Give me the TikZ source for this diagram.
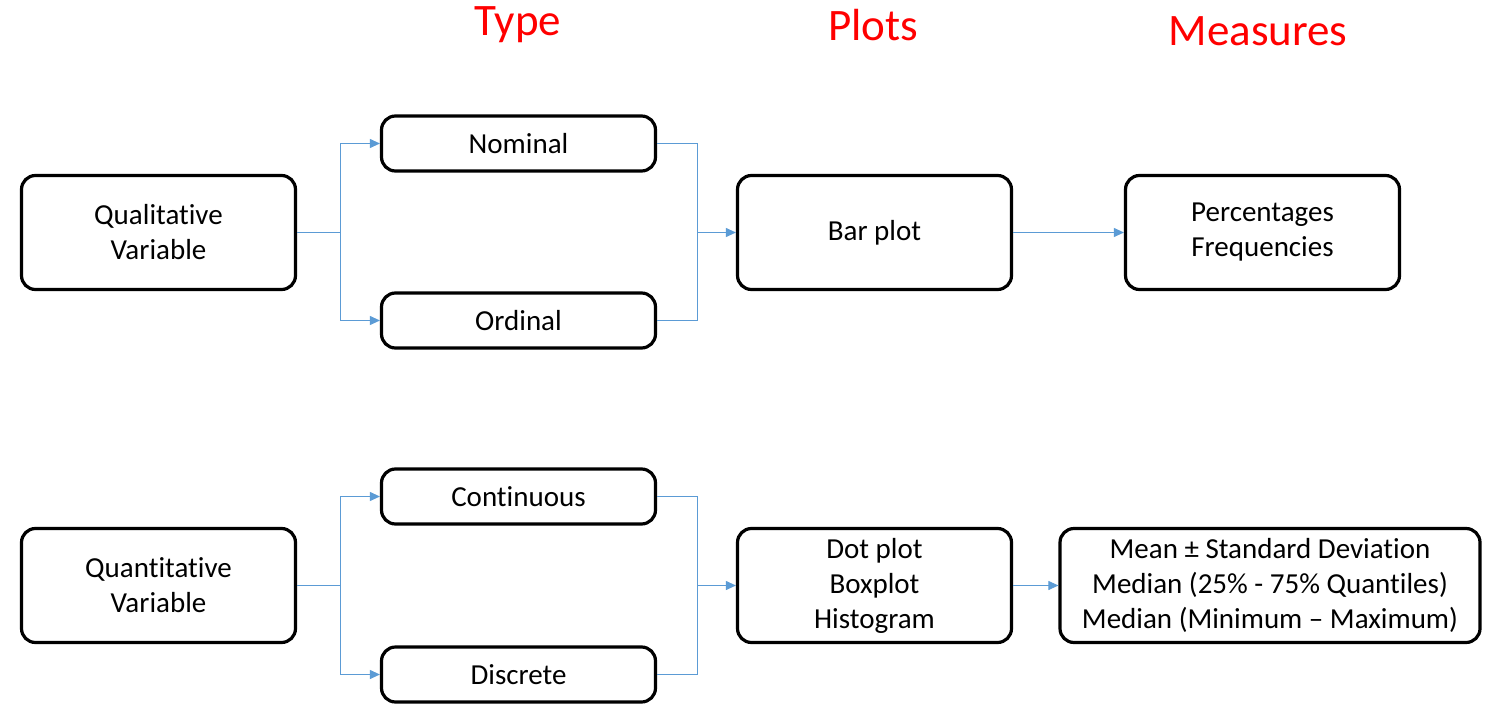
\documentclass[tikz,border=0pt]{standalone}
\usepackage{fontspec}
\setmainfont[Ligatures={NoCommon,NoContextual},RawFeature={-liga;-clig;-calt;-dlig}]{Carlito}
\usetikzlibrary{arrows.meta}
\definecolor{conncol}{RGB}{91,155,213}
\definecolor{titlered}{RGB}{255,0,0}
\begin{document}
\begin{tikzpicture}[x=0.5pt,y=-0.5pt,
  box/.style={draw=black,line width=1.6pt,rounded corners=7pt,inner sep=0pt,align=center,
    font=\fontsize{14.5}{17.5}\selectfont},
  bigbox/.style={box,minimum width=137pt,minimum height=57pt},
  smallbox/.style={box,minimum width=137pt,minimum height=27.5pt},
  widebox/.style={box,minimum width=210pt,minimum height=57pt},
  conn/.style={draw=conncol,line width=0.5pt},
  arr/.style={conn,-{Triangle[length=5pt,width=4.5pt]}},
  title/.style={text=titlered,font=\fontsize{22.5}{27}\selectfont}]
\useasboundingbox (0,0) rectangle (1498,722);
% titles
\node[title] (tType) at (518,25) {Type};
\node[title] (tPlots) at (873,25) {Plots};
\node[title] (tMeas) at (1258,31) {Measures};
% top row
\node[bigbox] (qual) at (158.5,232.5) {Qualitative\\Variable};
\node[smallbox] (nom) at (518.5,143.5) {Nominal};
\node[smallbox] (ord) at (518.5,320.5) {Ordinal};
\node[bigbox] (bar) at (874.5,232.5) {Bar plot};
\node[bigbox] (perc) at (1262.5,232.5) {Percentages\\Frequencies};
% bottom row
\node[bigbox] (quan) at (158.5,585.5) {Quantitative\\Variable};
\node[smallbox] (cont) at (518.5,496.5) {Continuous};
\node[smallbox] (disc) at (518.5,674.5) {Discrete};
\node[bigbox] (dot) at (874.5,585.5) {Dot plot\\Boxplot\\Histogram};
\node[widebox] (mean) at (1270,585.5) {Mean ± Standard Deviation\\Median (25\% - 75\% Quantiles)\\Median (Minimum – Maximum)};
% junctions
\coordinate (j1) at (340,232.5);
\coordinate (j2) at (697,232.5);
\coordinate (j3) at (340,585.5);
\coordinate (j4) at (697,585.5);
% top connectors
\draw[conn] (qual.east) -- (j1);
\draw[arr] (j1) |- (nom.west);
\draw[arr] (j1) |- (ord.west);
\draw[conn] (nom.east) -| (j2);
\draw[conn] (ord.east) -| (j2);
\draw[arr] (j2) -- (bar.west);
\draw[arr] (bar.east) -- (perc.west);
% bottom connectors
\draw[conn] (quan.east) -- (j3);
\draw[arr] (j3) |- (cont.west);
\draw[arr] (j3) |- (disc.west);
\draw[conn] (cont.east) -| (j4);
\draw[conn] (disc.east) -| (j4);
\draw[arr] (j4) -- (dot.west);
\draw[arr] (dot.east) -- (mean.west);
\end{tikzpicture}
\end{document}
